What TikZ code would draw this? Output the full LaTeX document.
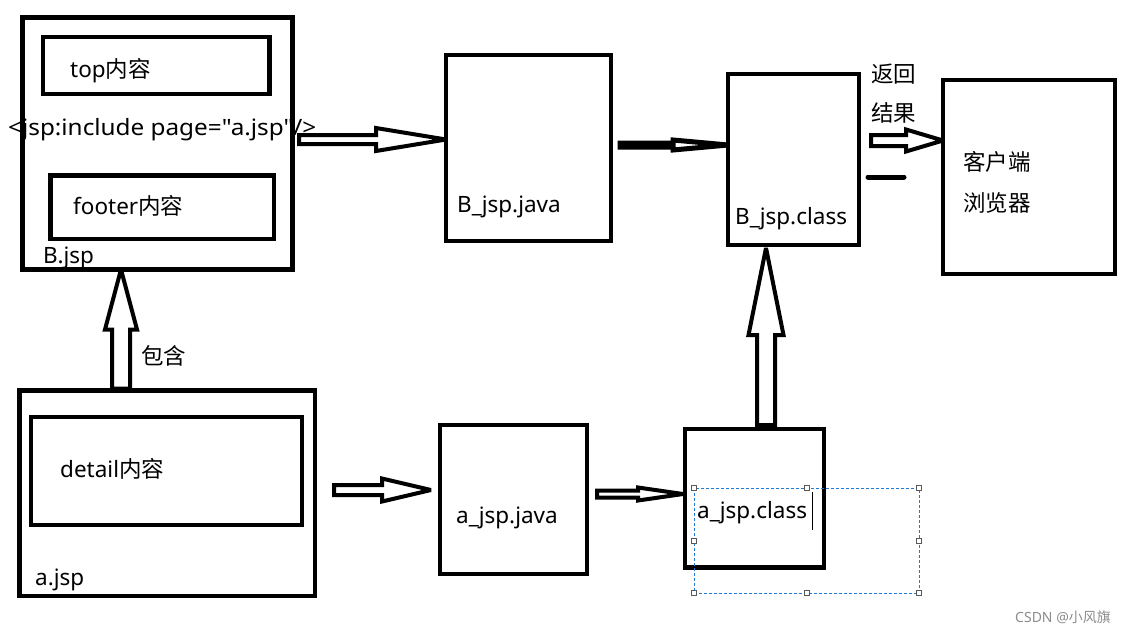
\documentclass[tikz,border=0pt]{standalone}
\usepackage{fontspec}
\newfontfamily\lat{Noto Sans}
\newfontfamily\cjk{Noto Sans CJK SC}
\usetikzlibrary{calc}
\newcommand\blockarr[6][]{%
  \coordinate (ba-h) at ($(#3)!#6!(#2)$);
  \draw[blockarrow,#1] ($(#2)!#4!90:(#3)$) -- ($(ba-h)!#4!90:(#3)$) -- ($(ba-h)!#5!90:(#3)$) -- (#3)
    -- ($(ba-h)!#5!-90:(#3)$) -- ($(ba-h)!#4!-90:(#3)$) -- ($(#2)!#4!-90:(#3)$) -- cycle;}
\begin{document}
\begin{tikzpicture}[x=1pt,y=-1pt,
  box/.style={draw, line width=4.5pt, inner sep=0pt, outer sep=0pt, rectangle},
  lbl/.style={font=\lat\fontsize{22.5}{26}\selectfont, inner sep=0pt, anchor=west},
  blockarrow/.style={draw, line width=4pt, fill=white, line join=miter, miter limit=2},
  handle/.style={draw=black!65, fill=white, line width=0.7pt, minimum size=4.5pt, inner sep=0pt}]
\useasboundingbox (0,0) rectangle (1131,633);
% boxes
\node[box, minimum width=270pt, minimum height=252pt] (bjsp) at (157.5,143.5) {};
\node[box, minimum width=226.5pt, minimum height=57pt] (top) at (156.25,65.5) {};
\node[box, minimum width=223.5pt, minimum height=63.5pt] (footer) at (162.25,207.25) {};
\node[box, minimum width=295.5pt, minimum height=205.5pt] (ajsp) at (167.25,493.25) {};
\node[box, minimum width=271pt, minimum height=108pt] (detail) at (166.5,471) {};
\node[box, minimum width=165pt, minimum height=186pt] (bjava) at (528.5,148) {};
\node[box, minimum width=147pt, minimum height=149pt] (ajava) at (513.5,499.5) {};
\node[box, minimum width=131pt, minimum height=171pt] (bclass) at (793.5,159.5) {};
\node[box, minimum width=139pt, minimum height=138.5pt] (aclass) at (754.5,498.25) {};
\node[box, minimum width=172pt, minimum height=194pt] (client) at (1029,177) {};
% labels
\node[lbl] (ttop) at (70,71) {top{\cjk 内容}};
\node[lbl] (tinc) at (8,130) {\scalebox{1.08}[1]{<jsp:include page="a.jsp"/>}};
\node[lbl] (tfoot) at (73,206) {footer{\cjk 内容}};
\node[lbl] (tbjsp) at (43,258) {B.jsp};
\node[lbl] (tbh) at (141,356) {\cjk 包含};
\node[lbl] (tdet) at (60,469) {detail{\cjk 内容}};
\node[lbl] (tajsp) at (35,580) {a.jsp};
\node[lbl] (tbjava) at (457,207) {B\_jsp.java};
\node[lbl] (tajava) at (456,518) {a\_jsp.java};
\node[lbl] (tbclass) at (735,219) {B\_jsp.class};
\node[lbl] (tfh1) at (871,74) {\cjk 返回};
\node[lbl] (tfh2) at (871,113) {\cjk 结果};
\node[lbl] (tkh1) at (963,162) {\cjk 客户端};
\node[lbl] (tkh2) at (963,203) {\cjk 浏览器};
% selection box around a_jsp.class text
\draw[draw={rgb,255:red,30;green,122;blue,214}, line width=0.8pt, dash pattern=on 3pt off 2pt] (694,488) rectangle (919,593);
\foreach \hx/\hy in {694/488,807/488,919/488,694/541,919/541,694/593,807/593,919/593}
  \node[handle] at (\hx,\hy) {};
\node[lbl] (taclass) at (697,513) {a\_jsp.class};
\draw[line width=0.9pt] (812,492) -- (812,530);
% arrows
\coordinate (a1s) at ($(bjsp.east)+(6.5,-4)$);
\coordinate (a1e) at ($(bjava.west)+(0,-8.5)$);
\blockarr{a1s}{a1e}{4.5pt}{11.5pt}{70pt}
\coordinate (a2s) at ($(bjava.east)+(9,-3)$);
\coordinate (a2e) at ($(bclass.west)+(0,-14.5)$);
\blockarr[line width=5pt]{a2s}{a2e}{2pt}{5pt}{55pt}
\coordinate (a3s) at ($(bclass.east)+(12,-19)$);
\coordinate (a3e) at ($(client.west)+(0,-36.5)$);
\blockarr{a3s}{a3e}{5.5pt}{11pt}{37pt}
\coordinate (d1) at ($(bclass.east)+(9,17.5)$);
\coordinate (d2) at ($(bclass.east)+(45,17.5)$);
\draw[line width=5pt, line cap=round] (d1) -- (d2);
\coordinate (a4s) at ($(ajsp.north west)+(101.5,-2)$);
\coordinate (a4e) at ($(bjsp.south west)+(98.5,0)$);
\blockarr{a4s}{a4e}{9pt}{16pt}{60pt}
\coordinate (a5s) at ($(ajsp.east)+(19,-3.25)$);
\coordinate (a5e) at ($(ajava.west)+(-9,-9.5)$);
\blockarr{a5s}{a5e}{5pt}{11.5pt}{49pt}
\coordinate (a6s) at ($(ajava.east)+(10,-5.5)$);
\coordinate (a6e) at ($(aclass.west)+(-2,-4.25)$);
\blockarr{a6s}{a6e}{3.5pt}{6.5pt}{45pt}
\coordinate (a7s) at ($(aclass.north)+(11.5,-4)$);
\coordinate (a7e) at ($(bclass.south)+(-27.5,3)$);
\blockarr{a7s}{a7e}{9pt}{17.5pt}{87pt}
% watermark
\node[font=\lat\fontsize{14}{16}\selectfont, text=black!45, inner sep=0pt, anchor=west] (wm) at (1015,617) {CSDN @{\cjk 小风旗}};
\end{tikzpicture}
\end{document}
